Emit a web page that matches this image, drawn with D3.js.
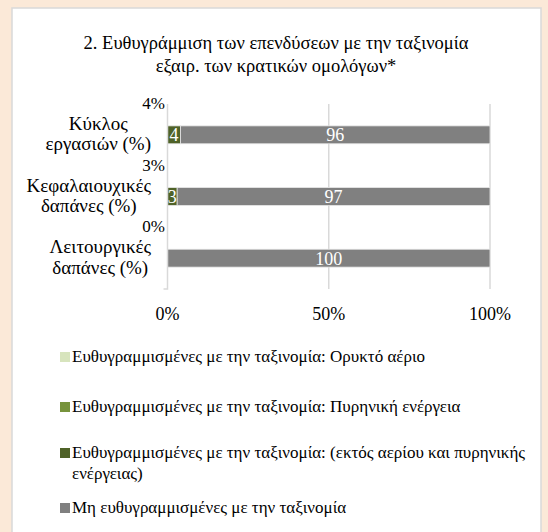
<!DOCTYPE html>
<html>
<head>
<meta charset="utf-8">
<script src="https://cdn.jsdelivr.net/npm/d3@7"></script>
</head>
<body style="margin:0; background:#fbe9d8">
<svg id="fig" width="548" height="532"></svg>
<script>
// Chart data //
var categories = ["Κύκλος εργασιών (%)", "Κεφαλαιουχικές δαπάνες (%)", "Λειτουργικές δαπάνες (%)"]
var category_lines = [["Κύκλος", "εργασιών (%)"], ["Κεφαλαιουχικές", "δαπάνες (%)"], ["Λειτουργικές", "δαπάνες (%)"]]
var series_names = [
   "Ευθυγραμμισμένες με την ταξινομία: Ορυκτό αέριο",
   "Ευθυγραμμισμένες με την ταξινομία: Πυρηνική ενέργεια",
   "Ευθυγραμμισμένες με την ταξινομία: (εκτός αερίου και πυρηνικής ενέργειας)",
   "Μη ευθυγραμμισμένες με την ταξινομία"]
var gas_values = [0, 0, 0]
var nuclear_values = [0, 0, 0]
var aligned_values = [4, 3, 0]
var not_aligned_values = [96, 97, 100]
var total_aligned_labels = ["4%", "3%", "0%"]
var x_ticks = [0, 50, 100]
var title_lines = ["2. Ευθυγράμμιση των επενδύσεων με την ταξινομία", "εξαιρ. των κρατικών ομολόγων*"]

var colors = ["#d7e4bd", "#77933c", "#4f6228", "#808080"]
var FONT = "Liberation Serif, Times New Roman, serif"

var svg_canvas = d3.select("#fig")

function serif(sel, size) {
   return sel.attr("font-family", FONT).attr("font-size", size)
}

// white panel
svg_canvas.append("rect")
   .attr("x", 12).attr("y", 8).attr("width", 529).attr("height", 532)
   .style("fill", "#fff").style("stroke", "#d9d9d9").style("stroke-width", 1.5)

// title
serif(svg_canvas.append("g").selectAll("text").data(title_lines).enter().append("text"), 18.5)
   .attr("x", 276).attr("y", function(d, i) { return 49 + i * 22.5 })
   .attr("text-anchor", "middle")
   .text(function(d) { return d })

var x = d3.scaleLinear().domain([0, 100]).range([167.5, 490])
var y = d3.scaleBand().domain(categories).range([104, 289]).paddingInner(0.71).paddingOuter(0.355)

var rows = categories.map(function(c, i) {
   return { cat: c, gas: gas_values[i], nuclear: nuclear_values[i], aligned: aligned_values[i], not_aligned: not_aligned_values[i] }
})
var keys = ["gas", "nuclear", "aligned", "not_aligned"]
var stacked = d3.stack().keys(keys)(rows)

// gridlines
svg_canvas.append("g").selectAll("line").data(x_ticks.slice(1)).enter().append("line")
   .attr("x1", function(d) { return x(d) }).attr("x2", function(d) { return x(d) })
   .attr("y1", 104).attr("y2", 289)
   .style("stroke", "#d9d9d9").style("stroke-width", 1.5)

// bars
var grp_bars = svg_canvas.append("g")
stacked.forEach(function(layer, k) {
   var shown = layer.filter(function(d) { return d[1] - d[0] > 0 })
   grp_bars.append("g").selectAll("rect").data(shown).enter().append("rect")
      .attr("x", function(d) { return x(d[0]) })
      .attr("width", function(d) { return x(d[1]) - x(d[0]) })
      .attr("y", function(d) { return y(d.data.cat) })
      .attr("height", y.bandwidth())
      .style("fill", colors[k]).style("stroke", "#e6e6e6").style("stroke-width", 0.8)
   serif(grp_bars.append("g").selectAll("text").data(shown).enter().append("text"), 18)
      .attr("x", function(d) { return x((d[0] + d[1]) / 2) })
      .attr("y", function(d) { return y(d.data.cat) + y.bandwidth() / 2 + 6.5 })
      .attr("text-anchor", "middle")
      .style("fill", "#fff")
      .text(function(d) { return d[1] - d[0] })
})

// y axis line with small end tick
svg_canvas.append("path")
   .attr("d", "M" + x(0) + ",104 V289 H" + (x(0) - 4))
   .style("fill", "none").style("stroke", "#d9d9d9").style("stroke-width", 1.5)

// total aligned labels, at top of each band
serif(svg_canvas.append("g").selectAll("text").data(total_aligned_labels).enter().append("text"), 17)
   .attr("x", 165).attr("y", function(d, i) { return y(categories[i]) - y.step() * 0.355 + 5 })
   .attr("text-anchor", "end")
   .text(function(d) { return d })

// category labels, centred lines, block right-aligned
category_lines.forEach(function(lines, i) {
   var cy = y(categories[i]) + y.bandwidth() / 2
   var t = serif(svg_canvas.append("g").selectAll("text").data(lines).enter().append("text"), 19)
      .attr("y", function(d, j) { return cy - 5 + j * 20.5 })
      .attr("text-anchor", "middle")
      .text(function(d) { return d })
   var w = d3.max(t.nodes(), function(n) { return n.getComputedTextLength() })
   t.attr("x", 151 - w / 2)
})

// x tick labels
serif(svg_canvas.append("g").selectAll("text").data(x_ticks).enter().append("text"), 18)
   .attr("x", function(d) { return x(d) }).attr("y", 320)
   .attr("text-anchor", "middle")
   .text(function(d) { return d + "%" })

// legend
var legend_rows = [[series_names[0]], [series_names[1]],
   ["Ευθυγραμμισμένες με την ταξινομία: (εκτός αερίου και πυρηνικής", "ενέργειας)"], [series_names[3]]]
var legend_y = [362, 412, 458, 513]
var grp_legend = svg_canvas.append("g")
legend_rows.forEach(function(lines, i) {
   grp_legend.append("rect")
      .attr("x", 60).attr("y", legend_y[i] - 10).attr("width", 10).attr("height", 10)
      .style("fill", colors[i])
   serif(grp_legend.append("g").selectAll("text").data(lines).enter().append("text"), 17)
      .attr("x", 72).attr("y", function(d, j) { return legend_y[i] + j * 21 })
      .text(function(d) { return d })
})
</script>
</body>
</html>
